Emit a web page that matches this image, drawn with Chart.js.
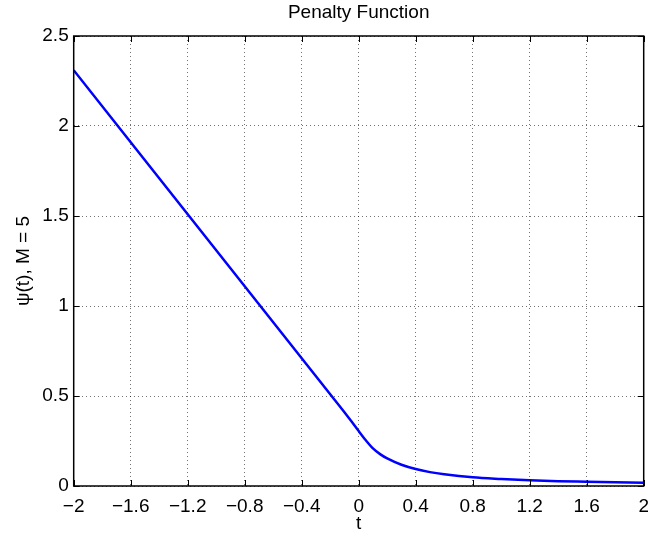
<!DOCTYPE html>
<html>
<head>
<meta charset="utf-8">
<script src="https://cdn.jsdelivr.net/npm/chart.js@4"></script>
<style>
  body { margin: 0; background: #fff; }
</style>
</head>
<body>
<canvas id="penaltyChart" width="648" height="537"></canvas>
<script>
// values
const tValues = [-2, -1.6, -1.2, -0.8, -0.4, -0.2, -0.1, -0.05, 0, 0.05, 0.1, 0.15, 0.2, 0.3, 0.4, 0.5, 0.6, 0.8, 1.0, 1.2, 1.4, 1.6, 1.8, 2.0];
const psiValues = [2.31, 1.91, 1.51, 1.11, 0.71, 0.51, 0.41, 0.358, 0.305, 0.254, 0.209, 0.177, 0.153, 0.118, 0.094, 0.077, 0.065, 0.048, 0.039, 0.032, 0.027, 0.024, 0.021, 0.018];
const xTicks = [-2, -1.6, -1.2, -0.8, -0.4, 0, 0.4, 0.8, 1.2, 1.6, 2];
const yTicks = [0, 0.5, 1, 1.5, 2, 2.5];

const points = tValues.map((t, i) => ({ x: t, y: psiValues[i] }));

const fontFamily = '"Liberation Sans", Arial, Helvetica, sans-serif';

function fmt(v) {
  const s = parseFloat(v.toFixed(1)).toString();
  return v < 0 ? '\u2212' + s.slice(1) : s;
}

// box round the axes plus small inward ticks on all four sides
const boxPlugin = {
  id: 'box',
  afterDatasetsDraw(chart) {
    const { ctx, chartArea: a, scales } = chart;
    ctx.save();
    ctx.strokeStyle = '#000';
    ctx.lineWidth = 1;
    ctx.beginPath();
    xTicks.forEach(v => {
      const px = Math.round(scales.x.getPixelForValue(v)) + 0.5;
      ctx.moveTo(px, a.bottom); ctx.lineTo(px, a.bottom - 6);
      ctx.moveTo(px, a.top); ctx.lineTo(px, a.top + 6);
    });
    yTicks.forEach(v => {
      const py = Math.round(scales.y.getPixelForValue(v)) + 0.5;
      ctx.moveTo(a.left, py); ctx.lineTo(a.left + 6, py);
      ctx.moveTo(a.right, py); ctx.lineTo(a.right - 6, py);
    });
    ctx.stroke();
    ctx.lineWidth = 1.5;
    ctx.strokeRect(a.left, a.top, a.right - a.left, a.bottom - a.top);
    ctx.restore();
  }
};

const ctx = document.getElementById('penaltyChart').getContext('2d');
const penaltyChart = new Chart(ctx, {
  type: 'scatter',
  data: {
    datasets: [{
      data: points,
      showLine: true,
      borderColor: '#0000ff',
      borderWidth: 2.5,
      pointRadius: 0,
      cubicInterpolationMode: 'monotone',
      fill: false
    }]
  },
  options: {
    responsive: false,
    animation: false,
    layout: { padding: { left: 0, right: 4.3, top: 0, bottom: 0 } },
    plugins: {
      legend: { display: false },
      tooltip: { enabled: false },
      title: {
        display: true,
        fullSize: false,
        text: 'Penalty Function',
        color: '#000',
        font: { family: fontFamily, size: 19, weight: 'normal', lineHeight: 1.2 },
        padding: { top: 1, bottom: 12.2 }
      }
    },
    scales: {
      x: {
        type: 'linear',
        min: -2,
        max: 2,
        afterBuildTicks: scale => { scale.ticks = xTicks.map(v => ({ value: v })); },
        afterFit: scale => {
          scale.height = 51;
          scale.paddingLeft = 0;
          scale.paddingRight = 0;
        },
        ticks: {
          color: '#000',
          padding: 9,
          maxRotation: 0,
          autoSkip: false,
          font: { family: fontFamily, size: 19 },
          callback: v => fmt(v)
        },
        grid: {
          color: 'rgba(0,0,0,0.55)',
          lineWidth: 1,
          drawTicks: false
        },
        border: { display: false, dash: [1, 3] },
        title: {
          display: true,
          text: 't',
          color: '#000',
          font: { family: fontFamily, size: 19, lineHeight: 1.2 },
          padding: { top: 0, bottom: 2 }
        }
      },
      y: {
        type: 'linear',
        min: 0,
        max: 2.5,
        afterBuildTicks: scale => { scale.ticks = yTicks.map(v => ({ value: v })); },
        afterFit: scale => {
          scale.width = 73.7;
          scale.paddingTop = 0;
          scale.paddingBottom = 0;
        },
        ticks: {
          color: '#000',
          padding: 5,
          autoSkip: false,
          font: { family: fontFamily, size: 19 },
          callback: v => fmt(v)
        },
        grid: {
          color: 'rgba(0,0,0,0.55)',
          lineWidth: 1,
          drawTicks: false
        },
        border: { display: false, dash: [1, 3] },
        title: {
          display: true,
          text: '\u03c8(t), M = 5',
          color: '#000',
          font: { family: fontFamily, size: 19, lineHeight: 1.2 },
          padding: { top: 12.6, bottom: 0 }
        }
      }
    }
  },
  plugins: [boxPlugin]
});
</script>
</body>
</html>
